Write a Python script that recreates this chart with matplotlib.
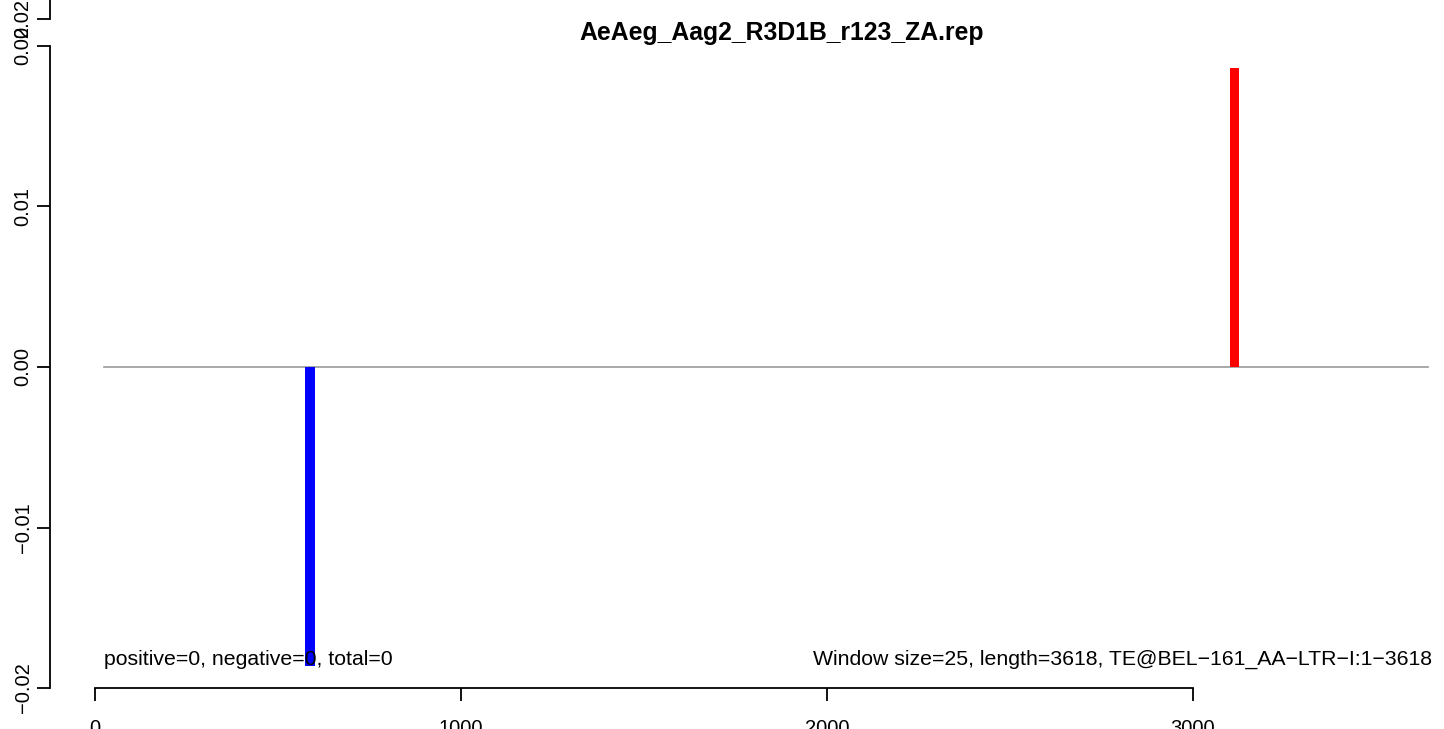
import matplotlib
matplotlib.use("Agg")
import matplotlib.pyplot as plt
import matplotlib.transforms as mtransforms

plt.rcParams["font.family"] = ["Liberation Sans", "DejaVu Sans"]

title = "AeAeg_Aag2_R3D1B_r123_ZA.rep"
window = 25
length = 3618
# bars (start of window, value)
pos_x = [3100]
pos_y = [0.0186]
neg_x = [575]
neg_y = [-0.0186]
xticks = [0, 1000, 2000, 3000]
yticks = [-0.02, -0.01, 0.00, 0.01, 0.02]
ytick_labels = ["-0.02", "-0.01", "0.00", "0.01", "0.02"]
extra_ytick = 0.0217
left_note = "positive=0, negative=0, total=0"
right_note = "Window size=25, length=3618, TE@BEL-161_AA-LTR-I:1-3618"

W, H = 1444, 729
fig = plt.figure(figsize=(W / 100, H / 100), dpi=100)
# axes in pixel terms: left edge at x=50, bottom at y=688 (from top)
ax = fig.add_axes([50 / W, (H - 688) / H, (W - 50) / W, 688 / H])

px_per_unit = 1098 / 3000.0
ax.set_xlim(-45 / px_per_unit, (W - 95) / px_per_unit)
px_per_y = 16050.0
ax.set_ylim(-0.02, 367 / px_per_y)

ax.plot([window, length + window], [0, 0], color="#999999", lw=1.2, zorder=1)
ax.bar(pos_x, pos_y, width=window, align="edge", color="#ff0000", zorder=2)
ax.bar(neg_x, neg_y, width=window, align="edge", color="#0000ff", zorder=2)

for s in ["top", "right"]:
    ax.spines[s].set_visible(False)
ax.spines["bottom"].set_bounds(0, 3000)
ax.spines["left"].set_bounds(-0.02, 0.02)
for s in ["bottom", "left"]:
    ax.spines[s].set_linewidth(1.3)

ax.set_xticks(xticks)
ax.set_xticklabels([str(t) for t in xticks])
ax.set_yticks(yticks + [extra_ytick])
ax.set_yticklabels([l.replace("-", "\u2212") for l in ytick_labels] + ["0.02"],
                   rotation=90, va="center")
ax.tick_params(axis="both", length=9.5, width=1.3, labelsize=14.5)
ax.tick_params(axis="x", pad=13)
ax.tick_params(axis="y", pad=3)

# second stub of the y axis above the top tick
tr = mtransforms.blended_transform_factory(ax.transAxes, ax.transData)
ax.plot([0, 0], [extra_ytick, 367 / px_per_y], color="black", lw=1.3,
        transform=tr, clip_on=False)

ax.text(window, -0.0182, left_note, fontsize=15.3, ha="left", va="center", zorder=3)
ax.text(3653, -0.0182, right_note.replace("-", "\u2212"),
        fontsize=15.3, ha="right", va="center", zorder=3)

fig.text(782 / W, 1 - 33 / H, title, fontsize=17.8, fontweight="bold",
         ha="center", va="center")

fig.savefig("out.png", dpi=100)
